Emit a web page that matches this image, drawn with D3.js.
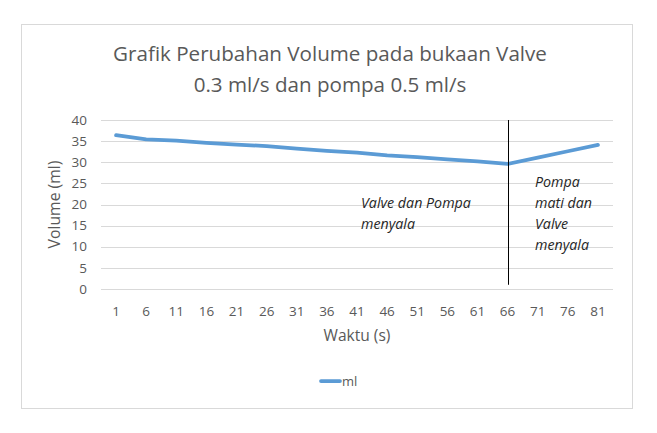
<!DOCTYPE html>
<html>
<head>
<meta charset="utf-8">
<script src="https://cdn.jsdelivr.net/npm/d3@7"></script>
<style>
  body { margin: 0; background: #fff; }
  text { font-family: "Open Sans", Lato, sans-serif; }
</style>
</head>
<body>
<div id="chart"></div>
<script>
'use strict';

// data
const waktu = [1, 6, 11, 16, 21, 26, 31, 36, 41, 46, 51, 56, 61, 66, 71, 76, 81];
const volume = [36.4, 35.4, 35.1, 34.6, 34.2, 33.8, 33.2, 32.7, 32.3, 31.6, 31.2, 30.7, 30.2, 29.6, 31.1, 32.6, 34.1];
const yTicks = [0, 5, 10, 15, 20, 25, 30, 35, 40];
const titleLines = ['Grafik Perubahan Volume pada bukaan Valve', '0.3 ml/s dan pompa 0.5 ml/s'];
const switchAt = 66;
const noteLeft = ['Valve dan Pompa', 'menyala'];
const noteRight = ['Pompa', 'mati dan', 'Valve', 'menyala'];

const width = 657, height = 433;
const margin = { top: 120, right: 44, bottom: 144, left: 101 };

// shrink/grow the font so the first text of a selection is `target` px wide
function fitWidth(sel, target) {
    const node = sel.node();
    const size = parseFloat(sel.style('font-size'));
    const w = node.getComputedTextLength();
    const fitted = size * target / w;
    sel.style('font-size', fitted + 'px');
    return fitted;
}

const svg = d3.select('#chart').append('svg')
    .attr('width', width)
    .attr('height', height);

// chart frame
svg.append('rect')
    .attr('x', 21.5).attr('y', 24.5)
    .attr('width', 611).attr('height', 384)
    .attr('fill', '#fff')
    .attr('stroke', '#d9d9d9');

const x = d3.scaleBand()
    .domain(waktu)
    .range([margin.left, width - margin.right]);

const y = d3.scaleLinear()
    .domain([0, 40])
    .range([height - margin.bottom, margin.top]);

// gridlines
svg.append('g')
    .selectAll('line')
    .data(yTicks)
    .join('line')
    .attr('x1', margin.left)
    .attr('x2', width - margin.right)
    .attr('y1', d => Math.round(y(d)) + 0.5)
    .attr('y2', d => Math.round(y(d)) + 0.5)
    .attr('stroke', '#d9d9d9');

// y tick labels
svg.append('g')
    .selectAll('text')
    .data(yTicks)
    .join('text')
    .attr('x', margin.left - 14)
    .attr('y', d => y(d))
    .attr('dy', '0.35em')
    .attr('text-anchor', 'end')
    .attr('fill', '#595959')
    .style('font-size', '13.5px')
    .text(d => d);

// x tick labels
svg.append('g')
    .selectAll('text')
    .data(waktu)
    .join('text')
    .attr('x', d => x(d) + x.bandwidth() / 2)
    .attr('y', y(0) + 27)
    .attr('text-anchor', 'middle')
    .attr('fill', '#595959')
    .style('font-size', '13.5px')
    .text(d => d);

// axis titles
const yTitle = svg.append('text')
    .attr('transform', `translate(60,${(y(0) + y(40)) / 2}) rotate(-90)`)
    .attr('text-anchor', 'middle')
    .attr('fill', '#595959')
    .style('font-size', '14px')
    .text('Volume (ml)');
fitWidth(yTitle, 88);

const xTitle = svg.append('text')
    .attr('x', 357)
    .attr('y', y(0) + 52)
    .attr('text-anchor', 'middle')
    .attr('fill', '#595959')
    .style('font-size', '14px')
    .text('Waktu (s)');
fitWidth(xTitle, 67);

// title
const title = svg.append('g')
    .selectAll('text')
    .data(titleLines)
    .join('text')
    .attr('x', 330)
    .attr('y', (d, i) => 61 + i * 31)
    .attr('text-anchor', 'middle')
    .attr('fill', '#595959')
    .style('font-size', '20px')
    .text(d => d);
const titleSize = fitWidth(title.filter((d, i) => i === 0), 434);
title.style('font-size', titleSize + 'px');

// series line
const line = d3.line()
    .x((d, i) => x(waktu[i]) + x.bandwidth() / 2)
    .y(d => y(d));

svg.append('path')
    .datum(volume)
    .attr('d', line)
    .attr('fill', 'none')
    .attr('stroke', '#5b9bd5')
    .attr('stroke-width', 3.75)
    .attr('stroke-linejoin', 'round')
    .attr('stroke-linecap', 'round');

// marker line where the pump is switched off
const sx = Math.round(x(switchAt) + x.bandwidth() / 2) + 0.5;
svg.append('line')
    .attr('x1', sx).attr('x2', sx)
    .attr('y1', y(40)).attr('y2', y(1))
    .attr('stroke', '#000')
    .attr('stroke-width', 1);

// annotations
const left = svg.append('g')
    .selectAll('text')
    .data(noteLeft)
    .join('text')
    .attr('x', 361)
    .attr('y', (d, i) => 208 + i * 21)
    .attr('fill', '#262626')
    .style('font-size', '12px')
    .style('font-style', 'italic')
    .text(d => d);
const noteSize = fitWidth(left.filter((d, i) => i === 0), 110);
left.style('font-size', noteSize + 'px');

svg.append('g')
    .selectAll('text')
    .data(noteRight)
    .join('text')
    .attr('x', 535)
    .attr('y', (d, i) => 187 + i * 21)
    .attr('fill', '#262626')
    .style('font-size', noteSize + 'px')
    .style('font-style', 'italic')
    .text(d => d);

// legend
const legend = svg.append('g').attr('transform', 'translate(321,381)');
legend.append('line')
    .attr('x1', 0).attr('x2', 19)
    .attr('stroke', '#5b9bd5')
    .attr('stroke-width', 3.75)
    .attr('stroke-linecap', 'round');
legend.append('text')
    .attr('x', 21)
    .attr('dy', '0.35em')
    .attr('fill', '#595959')
    .style('font-size', '13px')
    .text('ml');
</script>
</body>
</html>
